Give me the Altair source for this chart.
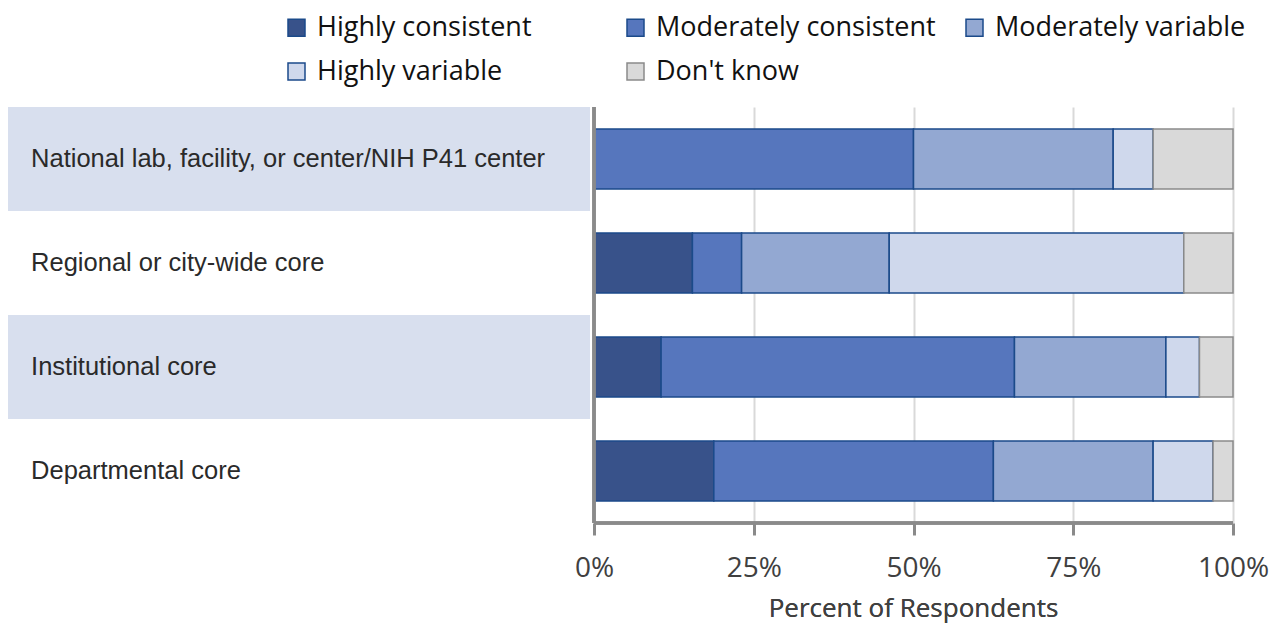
import altair as alt
import pandas as pd

categories = [
    "National lab, facility, or center/NIH P41 center",
    "Regional or city-wide core",
    "Institutional core",
    "Departmental core",
]
responses = ["Highly consistent", "Moderately consistent", "Moderately variable",
             "Highly variable", "Don't know"]
highly_consistent = [0.0, 15.4, 10.5, 18.75]
moderately_consistent = [50.0, 7.7, 55.3, 43.75]
moderately_variable = [31.25, 23.1, 23.7, 25.0]
highly_variable = [6.25, 46.1, 5.25, 9.375]
dont_know = [12.5, 7.7, 5.25, 3.125]
tick_values = [0, 25, 50, 75, 100]

fills = ["#38528a", "#5676bd", "#93a8d2", "#cfd8ec", "#d9d9d9"]
strokes = ["#1b4a8a", "#1b4a8a", "#1b4a8a", "#1b4a8a", "#8a8a8a"]

series = [highly_consistent, moderately_consistent, moderately_variable,
          highly_variable, dont_know]
rows = []
for ri, resp in enumerate(responses):
    for ci, cat in enumerate(categories):
        rows.append({"category": cat, "response": resp, "order": ri,
                     "value": series[ri][ci]})
df = pd.DataFrame(rows)
labels_df = pd.DataFrame({"category": categories,
                          "shaded": [True, False, True, False]})

W, H = 1225, 416
XMIN = -91.71

xscale = alt.Scale(domain=[XMIN, 100], nice=False, zero=False)
yscale = alt.Scale(paddingInner=0, paddingOuter=0)
ysort = categories

leg = alt.Legend(
    title=None, orient="none", legendX=275, legendY=-93, columns=3,
    gridAlign="all", symbolType="square", symbolSize=289, symbolStrokeWidth=1.5,
    labelFontSize=27, labelFont="Open Sans", labelColor="#111111",
    labelOffset=7, labelLimit=500, columnPadding=25, rowPadding=16, padding=0,
    direction="horizontal",
)

bands = alt.Chart(labels_df).transform_filter("datum.shaded").mark_rect(
    color="#d8dfee").encode(
    x=alt.datum(XMIN, scale=xscale),
    x2=alt.datum(-0.63),
    y=alt.Y("category:N", sort=ysort, axis=None, scale=yscale),
)

row_text = alt.Chart(labels_df).mark_text(
    align="left", baseline="middle", font="Liberation Sans", fontSize=25.5,
    color="#2a2a2a").encode(
    x=alt.datum(-88.1),
    y=alt.Y("category:N", sort=ysort),
    text="category:N",
)

bars = alt.Chart(df).mark_bar(height=60, strokeWidth=1.5).encode(
    x=alt.X("sum(value):Q", scale=xscale, stack="zero",
            axis=alt.Axis(values=tick_values, labelExpr="datum.value + '%'",
                          title=None, domain=False, grid=True,
                          gridColor="#d9d9d9", gridWidth=2,
                          tickColor="#8a8a8a", tickWidth=3, tickSize=12,
                          labelFont="Open Sans", labelFontSize=28,
                          labelFlush=False, labelBound=False,
                          labelColor="#404040", labelPadding=19)),
    y=alt.Y("category:N", sort=ysort),
    fill=alt.Fill("response:N", sort=responses,
                  scale=alt.Scale(domain=responses, range=fills), legend=leg),
    stroke=alt.Stroke("response:N", sort=responses,
                      scale=alt.Scale(domain=responses, range=strokes), legend=leg),
    order=alt.Order("order:Q"),
)

vrule = alt.Chart(labels_df).mark_rule(color="#8a8a8a", strokeWidth=3).encode(
    x=alt.datum(0),
)
hrule = alt.Chart(labels_df).mark_rule(color="#8a8a8a", strokeWidth=3).encode(
    x=alt.datum(0), x2=alt.datum(100), y=alt.value(H),
)
axis_title = alt.Chart(labels_df).transform_filter("datum.shaded").mark_text(
    text="Percent of Respondents", font="Open Sans", fontSize=26,
    color="#404040", baseline="alphabetic", align="center").encode(
    x=alt.datum(50), y=alt.value(H + 94),
)

chart = alt.layer(bands, bars, row_text, vrule, hrule, axis_title).properties(
    width=W, height=H,
    autosize=alt.AutoSizeParams(type="none"),
    padding={"top": 99, "left": 0, "right": 37, "bottom": 101},
).configure_view(stroke=None).resolve_legend(fill="shared", stroke="shared")

chart.save("out.html", embed_options={"renderer": "svg", "actions": False})
